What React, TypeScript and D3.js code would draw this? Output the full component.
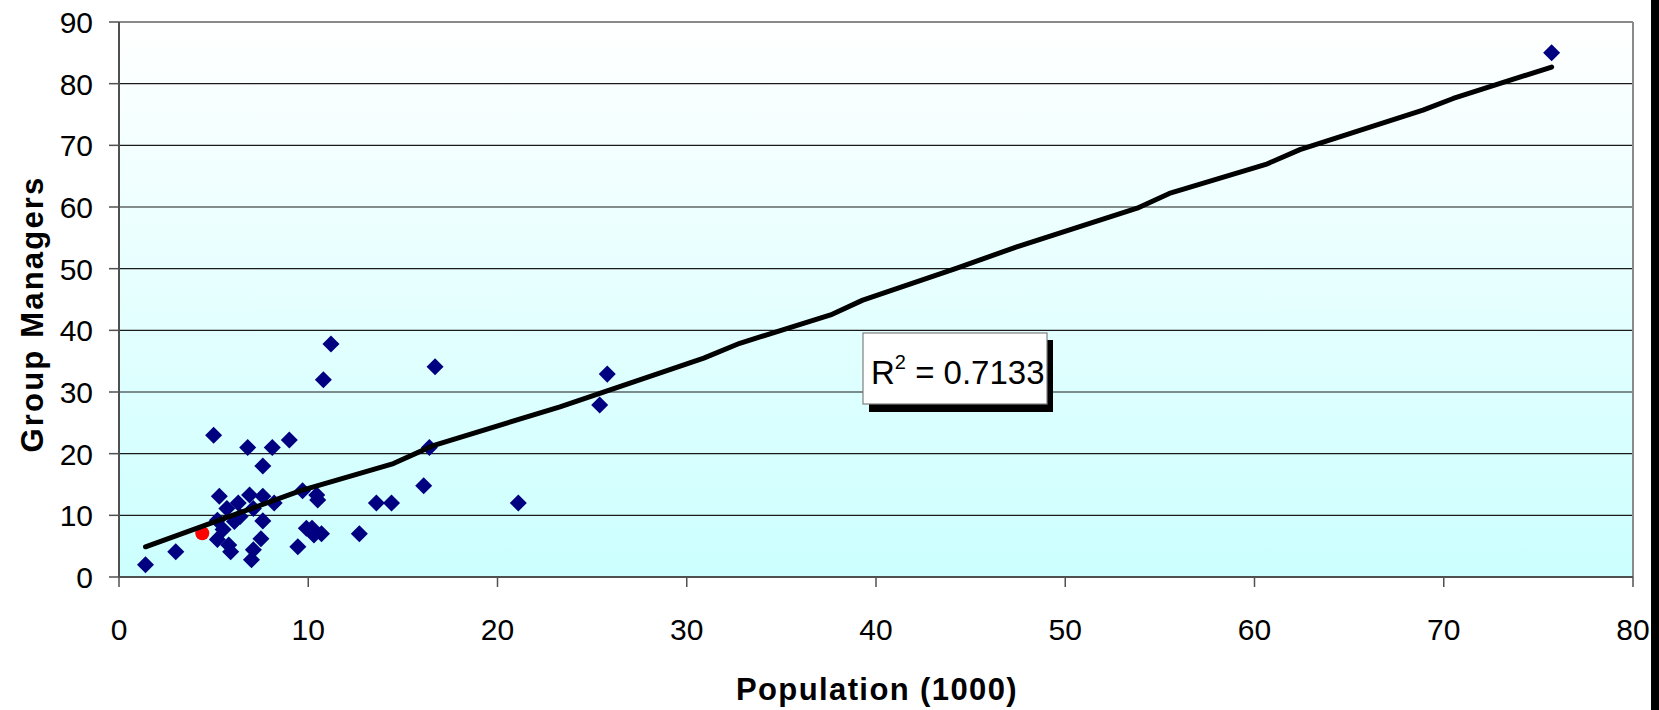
import React from 'react';
import * as d3 from 'd3';

// ---- data ----
const populationK = [
  1.4, 3.0, 5.0, 5.3, 5.2, 5.2, 5.5, 5.7, 5.8, 5.9, 6.1, 6.3, 6.4, 6.8, 6.9, 7.0, 7.1, 7.1,
  7.5, 7.6, 7.6, 7.6, 8.1, 8.2, 9.0, 9.45, 9.7, 9.9, 10.2, 10.3, 10.45, 10.5, 10.7, 10.8,
  11.2, 12.7, 13.6, 14.4, 16.1, 16.4, 16.7, 21.1, 25.4, 25.8, 75.7,
];
const groupManagers = [
  2.0, 4.1, 23.0, 13.1, 9.2, 6.1, 7.7, 11.1, 5.2, 4.1, 9.0, 12.0, 9.8, 21.0, 13.3, 2.8, 4.4, 11.1,
  6.2, 18.0, 13.1, 9.1, 21.0, 12.0, 22.2, 4.9, 14.0, 7.9, 7.9, 6.8, 13.3, 12.5, 7.0, 32.0,
  37.8, 7.0, 12.0, 12.0, 14.8, 21.0, 34.1, 12.0, 27.9, 32.9, 85.0,
];
const highlightX = [4.4];
const highlightY = [7.1];
const trendX = [1.4, 9.6, 14.5, 16.6, 23.3, 30.9, 32.8, 37.6, 39.3, 44.2, 47.4, 53.8, 55.5, 60.6, 62.4, 68.9, 70.5, 75.7];
const trendY = [4.9, 14.0, 18.4, 21.3, 27.6, 35.5, 37.9, 42.5, 44.9, 50.0, 53.5, 59.8, 62.2, 66.9, 69.3, 75.7, 77.6, 82.7];
const xTicks = [0, 10, 20, 30, 40, 50, 60, 70, 80];
const yTicks = [0, 10, 20, 30, 40, 50, 60, 70, 80, 90];
const xTitle = 'Population (1000)';
const yTitle = 'Group Managers';
const r2Text = '0.7133';

const W = 1659;
const H = 710;
const M = { left: 119, right: 1633, top: 22, bottom: 577 };
const FONT = '"Liberation Sans", Arial, sans-serif';

export default function App() {
  const x = d3.scaleLinear().domain([0, 80]).range([M.left, M.right]);
  const y = d3.scaleLinear().domain([0, 90]).range([M.bottom, M.top]);
  const line = d3
    .line<number>()
    .x((_, i) => x(trendX[i]))
    .y((d) => y(d));
  const diamond = d3.symbol(d3.symbolSquare, 145)();

  return (
    <svg
      width={W}
      height={H}
      style={{ position: 'absolute', left: 0, top: 0, background: '#fff' }}
      fontFamily={FONT}
    >
      <defs>
        <linearGradient id="bg" x1="0" y1="0" x2="0" y2="1">
          <stop offset="0%" stopColor="#FFFFFF" />
          <stop offset="100%" stopColor="#CCFFFF" />
        </linearGradient>
      </defs>
      <rect x={M.left} y={M.top} width={M.right - M.left} height={M.bottom - M.top} fill="url(#bg)" />
      {yTicks.slice(1, -1).map((t) => (
        <line key={'g' + t} x1={M.left} x2={M.right} y1={y(t)} y2={y(t)} stroke="#1a1a1a" strokeWidth={1.2} />
      ))}
      {/* border */}
      <line x1={M.left} x2={M.right} y1={M.top} y2={M.top} stroke="#8a8a8a" strokeWidth={2} />
      <line x1={M.right} x2={M.right} y1={M.top} y2={M.bottom} stroke="#8a8a8a" strokeWidth={2} />
      {/* axes */}
      <line x1={M.left} x2={M.left} y1={M.top} y2={M.bottom} stroke="#505050" strokeWidth={2} />
      <line x1={M.left} x2={M.right} y1={M.bottom} y2={M.bottom} stroke="#505050" strokeWidth={2} />
      {yTicks.map((t) => (
        <g key={'y' + t}>
          <line x1={M.left - 10} x2={M.left} y1={y(t)} y2={y(t)} stroke="#505050" strokeWidth={1.5} />
          <text x={93} y={y(t) + 11} textAnchor="end" fontSize={30} fill="#000">
            {t}
          </text>
        </g>
      ))}
      {xTicks.map((t) => (
        <g key={'x' + t}>
          <line x1={x(t)} x2={x(t)} y1={M.bottom} y2={M.bottom + 10} stroke="#505050" strokeWidth={1.5} />
          <text x={x(t)} y={640} textAnchor="middle" fontSize={30} fill="#000">
            {t}
          </text>
        </g>
      ))}
      {populationK.map((v, i) => (
        <path
          key={'p' + i}
          d={diamond as string}
          transform={`translate(${x(v)},${y(groupManagers[i])}) rotate(45)`}
          fill="#000080"
        />
      ))}
      {highlightX.map((v, i) => (
        <circle key={'h' + i} cx={x(v)} cy={y(highlightY[i])} r={7} fill="#FF0000" />
      ))}
      <path d={line(trendY) as string} fill="none" stroke="#000" strokeWidth={5} strokeLinejoin="round" strokeLinecap="round" />
      {/* R2 box */}
      <rect x={869} y={340} width={184} height={72} fill="#000" />
      <rect x={863} y={333} width={184} height={71} fill="#fff" stroke="#808080" strokeWidth={1.2} />
      <text x={871} y={384} fontSize={33} fill="#000">
        R<tspan dy={-15} fontSize={20}>2</tspan>
        <tspan dy={15}>{' = ' + r2Text}</tspan>
      </text>
      {/* titles */}
      <text x={877} y={700} textAnchor="middle" fontSize={31} fontWeight="bold" letterSpacing={1.4}>
        {xTitle}
      </text>
      <text
        transform={`translate(43,314) rotate(-90)`}
        textAnchor="middle"
        fontSize={31}
        fontWeight="bold"
        letterSpacing={2.2}
      >
        {yTitle}
      </text>
      <rect x={1651} y={0} width={8} height={H} fill="#000" />
    </svg>
  );
}
